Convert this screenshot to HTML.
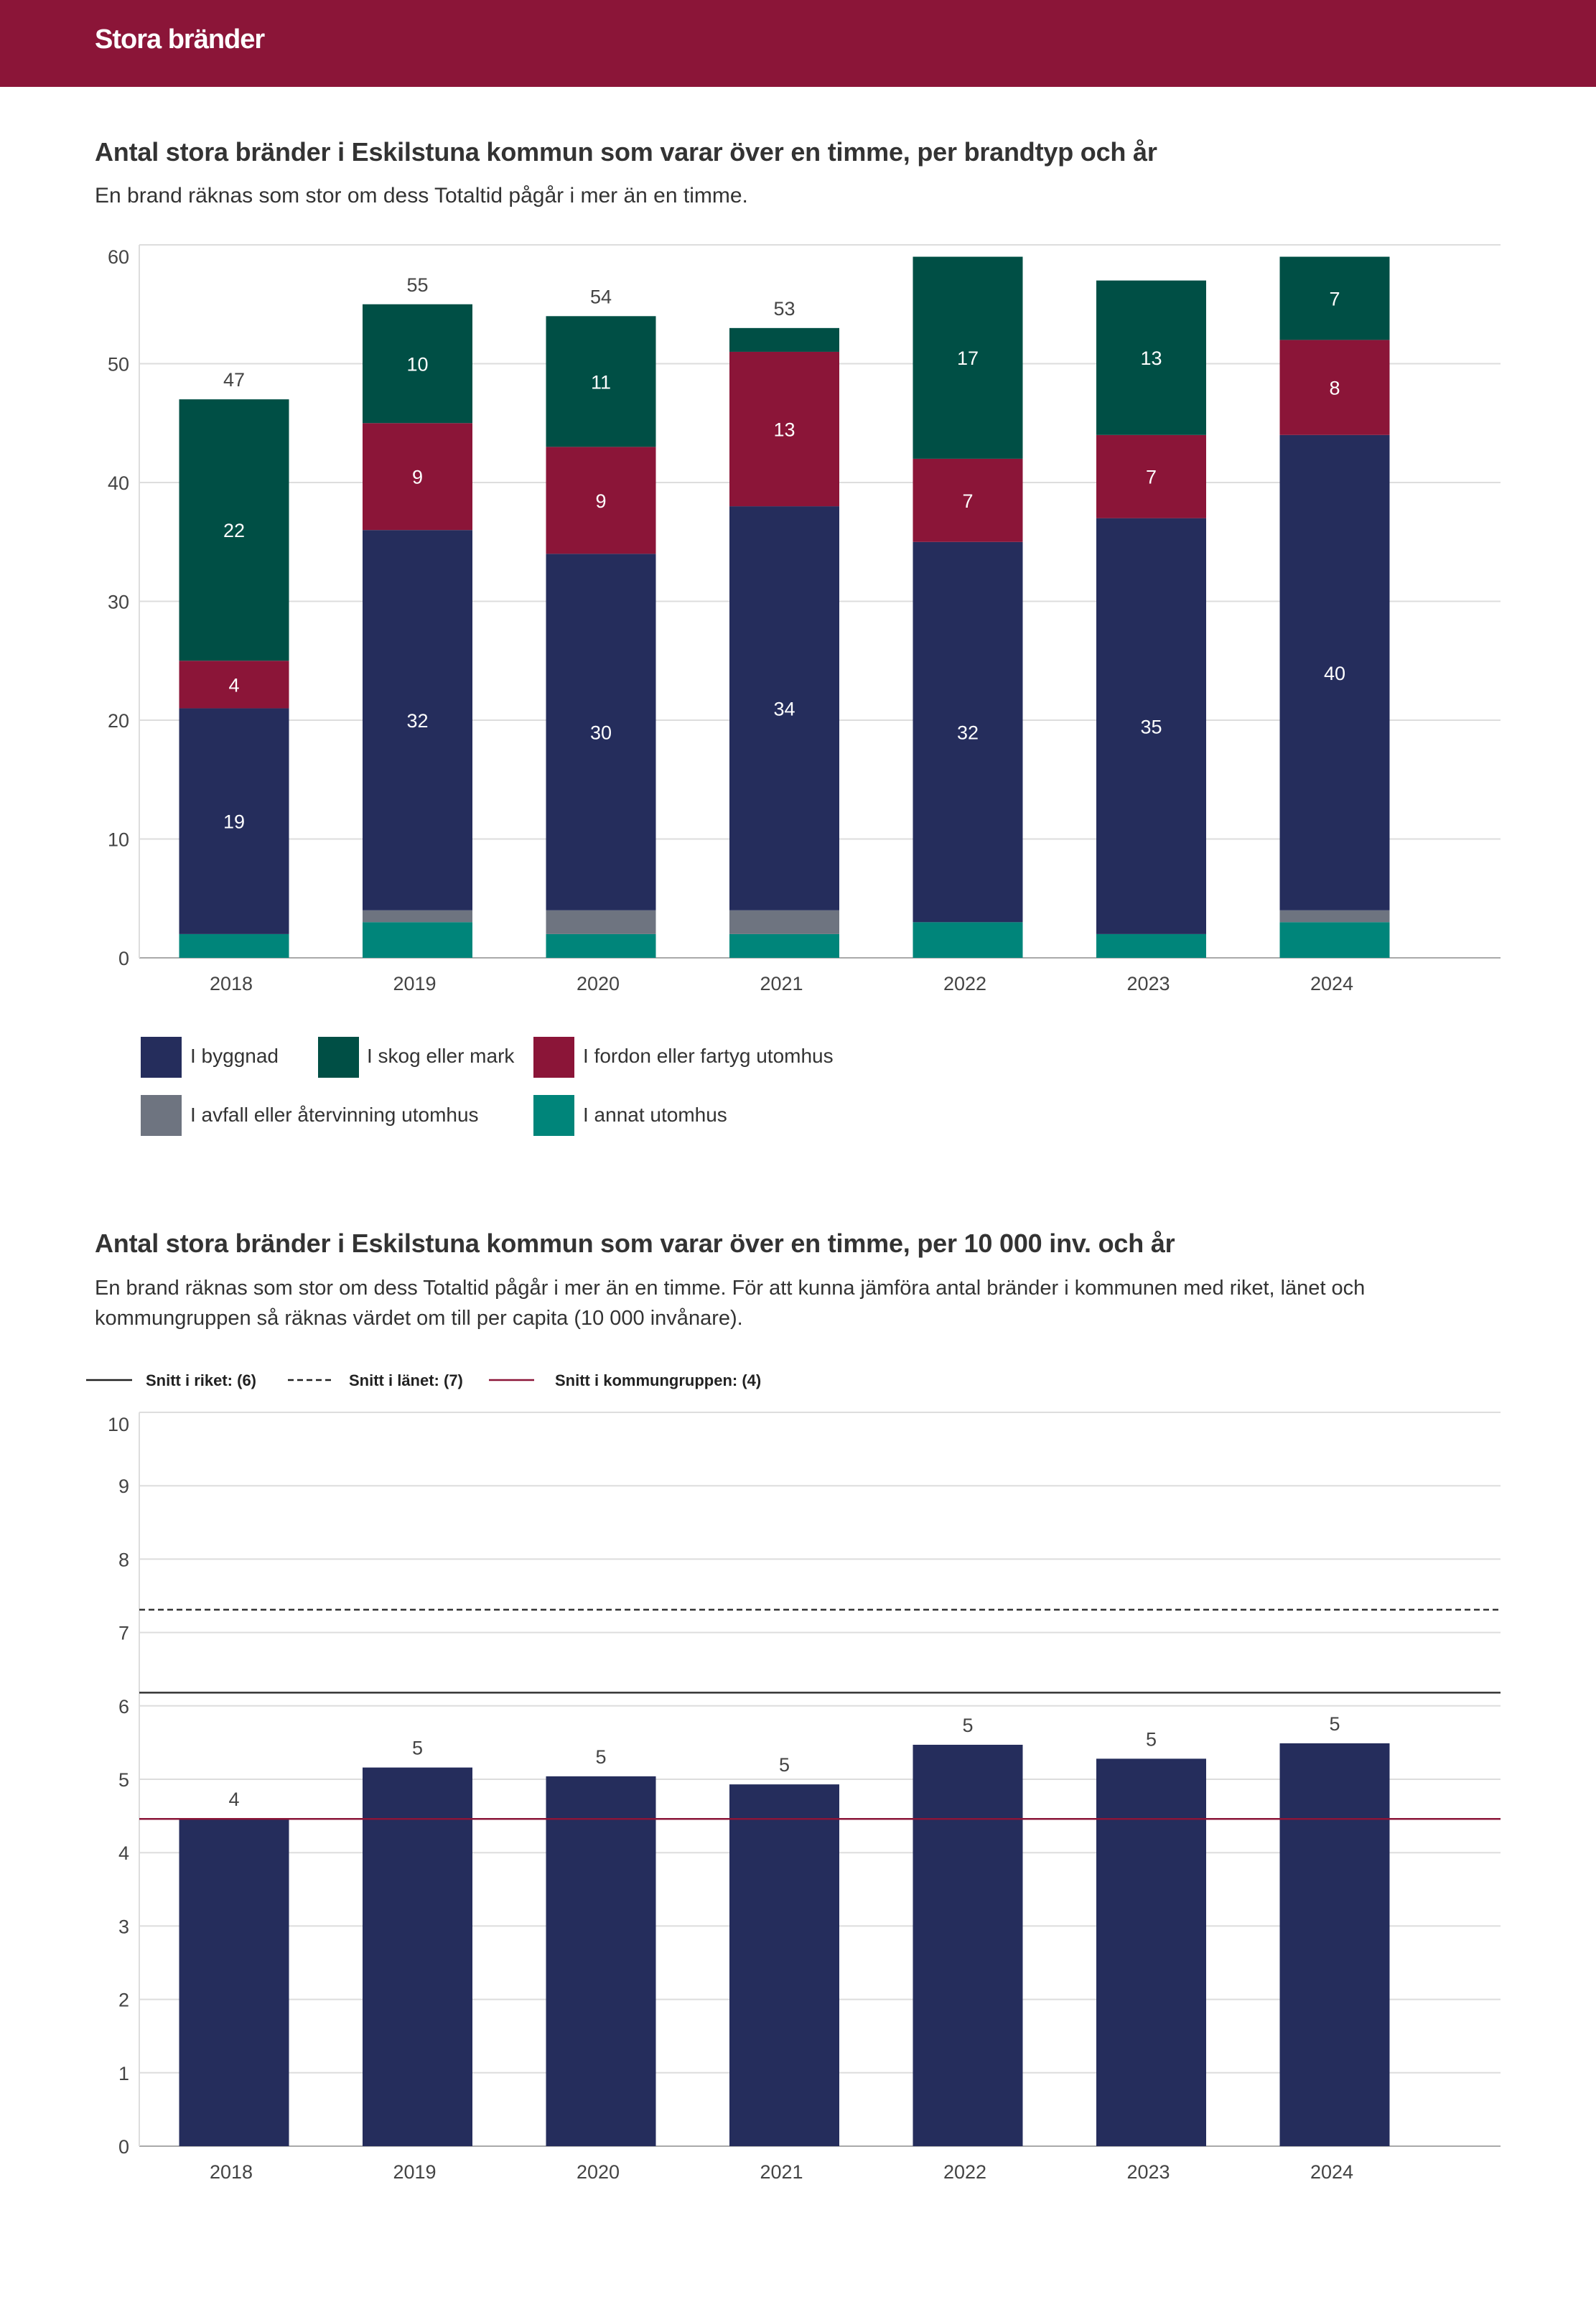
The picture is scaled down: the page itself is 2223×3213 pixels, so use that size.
<!DOCTYPE html>
<html><head><meta charset="utf-8">
<style>
body{margin:0;width:2223px;height:3213px;background:#fff;font-family:"Liberation Sans",sans-serif;color:#333;position:relative;overflow:hidden}
.abs{position:absolute;white-space:nowrap}
</style></head>
<body>
<div class="abs" style="left:0;top:0;width:2223px;height:121px;background:#8b1538"></div>
<div class="abs" style="left:132px;top:34px;font-size:38px;font-weight:bold;color:#fff;letter-spacing:-1px">Stora bränder</div>

<div class="abs" style="left:132px;top:191px;font-size:36px;font-weight:bold;color:#333;letter-spacing:-0.2px">Antal stora bränder i Eskilstuna kommun som varar över en timme, per brandtyp och år</div>
<div class="abs" style="left:132px;top:256px;font-size:30px;color:#333">En brand räknas som stor om dess Totaltid pågår i mer än en timme.</div>

<svg id="c1" class="abs" style="left:0;top:0" width="2223" height="1420"></svg>

<div>
<div class="abs" style="left:196px;top:1444px;width:57px;height:57px;background:#252d5c"></div>
<div class="abs" style="left:265px;top:1455px;font-size:28px">I byggnad</div>
<div class="abs" style="left:443px;top:1444px;width:57px;height:57px;background:#004f45"></div>
<div class="abs" style="left:511px;top:1455px;font-size:28px">I skog eller mark</div>
<div class="abs" style="left:743px;top:1444px;width:57px;height:57px;background:#8b1538"></div>
<div class="abs" style="left:812px;top:1455px;font-size:28px">I fordon eller fartyg utomhus</div>
<div class="abs" style="left:196px;top:1525px;width:57px;height:57px;background:#6e7480"></div>
<div class="abs" style="left:265px;top:1537px;font-size:28px">I avfall eller återvinning utomhus</div>
<div class="abs" style="left:743px;top:1525px;width:57px;height:57px;background:#00857a"></div>
<div class="abs" style="left:812px;top:1537px;font-size:28px">I annat utomhus</div>
</div>

<div class="abs" style="left:132px;top:1711px;font-size:36px;font-weight:bold;color:#333;letter-spacing:-0.2px">Antal stora bränder i Eskilstuna kommun som varar över en timme, per 10 000 inv. och år</div>
<div class="abs" style="left:132px;top:1773px;font-size:29px;line-height:42px;color:#333">En brand räknas som stor om dess Totaltid pågår i mer än en timme. För att kunna jämföra antal bränder i kommunen med riket, länet och<br>kommungruppen så räknas värdet om till per capita (10 000 invånare).</div>

<svg id="c2" class="abs" style="left:0;top:1880px" width="2223" height="1200"></svg>

<script>
var NS="http://www.w3.org/2000/svg";
function mk(p,t,a){var e=document.createElementNS(NS,t);for(var k in a)e.setAttribute(k,a[k]);p.appendChild(e);return e;}

// Chart 1 data
var years=["2018","2019","2020","2021","2022","2023","2024"];
var annat=[2,3,2,2,3,2,3];
var avfall=[0,1,2,2,0,0,1];
var byggnad=[19,32,30,34,32,35,40];
var fordon=[4,9,9,13,7,7,8];
var skog=[22,10,11,2,17,13,7];
var yTicks1=[0,10,20,30,40,50,60];

// Chart 2 data
var perCapita=[4.46,5.16,5.04,4.93,5.47,5.28,5.49];
var riket=6.18, lanet=7.31, kommungrupp=4.46;
var yTicks2=[0,1,2,3,4,5,6,7,8,9,10];

var PL=194,PR=2090,cx0=326,step=255.5,bw=153;
function xc(i){return cx0+i*step;}

(function(){
  var s=document.getElementById('c1');
  var y0=1334,y1=341,max=60;
  function y(v){return y0-(v/max)*(y0-y1);}
  yTicks1.forEach(function(t){
    var l=mk(s,'line',{x1:PL,x2:PR,y1:y(t),y2:y(t),stroke:t===0?'#aaa':'#ddd','stroke-width':2});
    
    
    var tx=mk(s,'text',{x:180,y:y(t)+10+(t===max?16:0),'text-anchor':'end','font-size':27,fill:'#444'});
    tx.textContent=t;
    
    
  });
  var ax=mk(s,'line',{x1:PL,x2:PL,y1:y1,y2:y0,stroke:'#ddd','stroke-width':2});
  
  
  var series=[[annat,'#00857a','annat'],[avfall,'#6e7480','avfall'],[byggnad,'#252d5c','byggnad'],[fordon,'#8b1538','fordon'],[skog,'#004f45','skog']];
  years.forEach(function(yr,i){
    var cum=0;
    series.forEach(function(se){
      var v=se[0][i];if(!v)return;
      var r=mk(s,'rect',{x:xc(i)-bw/2,y:y(cum+v),width:bw,height:y(cum)-y(cum+v),fill:se[1]});
      
      
      if(v>=4){
        var t=mk(s,'text',{x:xc(i),y:(y(cum)+y(cum+v))/2+10,'text-anchor':'middle','font-size':27,fill:'#fff'});
        t.textContent=v;
        
        
      }
      cum+=v;
    });
    if(cum<=55){
      var tt=mk(s,'text',{x:xc(i),y:y(cum)-18,'text-anchor':'middle','font-size':27,fill:'#444'});
      tt.textContent=cum;
      
      
    }
    var xl=mk(s,'text',{x:xc(i)-4,y:1379,'text-anchor':'middle','font-size':27,fill:'#444'});
    xl.textContent=yr;
    
    
  });
})();

(function(){
  var s=document.getElementById('c2');
  var off=1880,y0=2989-off,y1=1967-off,max=10;
  function y(v){return y0-(v/max)*(y0-y1);}
  var lg=[[120,184,'#222','none',203,'Snitt i riket: (6)'],[401,465,'#222','8,5',486,'Snitt i länet: (7)'],[681,744,'#8b1538','none',773,'Snitt i kommungruppen: (4)']];
  lg.forEach(function(L,k){
    var ln=mk(s,'line',{x1:L[0],x2:L[1],y1:42,y2:42,stroke:L[2],'stroke-width':2.5,'stroke-dasharray':L[3]});
    
    
    var t=mk(s,'text',{x:L[4],y:50,'font-size':22,'font-weight':'bold',fill:'#222'});
    t.textContent=L[5];
    
    
  });
  yTicks2.forEach(function(t){
    var l=mk(s,'line',{x1:PL,x2:PR,y1:y(t),y2:y(t),stroke:t===0?'#aaa':'#ddd','stroke-width':2});
    
    
    var tx=mk(s,'text',{x:180,y:y(t)+10+(t===max?16:0),'text-anchor':'end','font-size':27,fill:'#444'});
    tx.textContent=t;
    
    
  });
  var ax=mk(s,'line',{x1:PL,x2:PL,y1:y1,y2:y0,stroke:'#ddd','stroke-width':2});
  
  
  years.forEach(function(yr,i){
    var v=perCapita[i];
    var r=mk(s,'rect',{x:xc(i)-bw/2,y:y(v),width:bw,height:y(0)-y(v),fill:'#252d5c'});
    
    
    var t=mk(s,'text',{x:xc(i),y:y(v)-18,'text-anchor':'middle','font-size':27,fill:'#444'});
    t.textContent=Math.round(v);
    
    
    var xl=mk(s,'text',{x:xc(i)-4,y:y0+45,'text-anchor':'middle','font-size':27,fill:'#444'});
    xl.textContent=yr;
    
    
  });
  var a=mk(s,'line',{x1:PL,x2:PR,y1:y(riket),y2:y(riket),stroke:'#333','stroke-width':2.5});
  
  
  var b=mk(s,'line',{x1:PL,x2:PR,y1:y(lanet),y2:y(lanet),stroke:'#333','stroke-width':2.5,'stroke-dasharray':'8,5'});
  
  
  var c=mk(s,'line',{x1:PL,x2:PR,y1:y(kommungrupp),y2:y(kommungrupp),stroke:'#8b1538','stroke-width':2.5});
  
  
})();
</script>
</body></html>
